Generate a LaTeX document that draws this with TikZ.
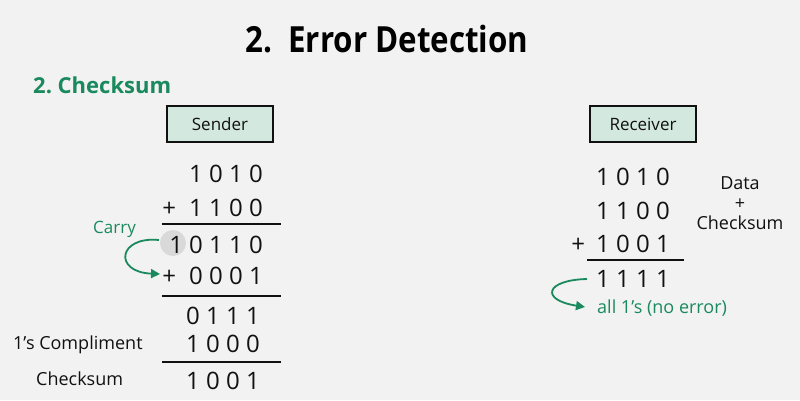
\documentclass[tikz,border=0pt]{standalone}
\usepackage{fontspec}
\usepackage{graphicx}
\setmainfont{Open Sans}
\usetikzlibrary{arrows.meta}
\definecolor{bg}{HTML}{F2F2F2}
\definecolor{gfg}{HTML}{1A8A5E}
\definecolor{boxfill}{HTML}{D3E8DF}
\definecolor{ink}{HTML}{111111}
\begin{document}
\begin{tikzpicture}[x=1pt,y=-1pt,
  num/.style={anchor=base east,inner sep=0pt,font=\fontsize{24}{24}\selectfont,text=ink},
  lbl/.style={anchor=base west,inner sep=0pt,font=\fontsize{18}{18}\selectfont,text=ink},
  grn/.style={inner sep=0pt,font=\fontsize{17}{17}\selectfont,text=gfg},
  hdr/.style={draw=ink,line width=1.6pt,fill=boxfill,minimum width=106pt,minimum height=36pt,inner sep=0pt,font=\fontsize{17}{17}\selectfont,text=ink},
  rule/.style={draw=ink,line width=1.8pt},
  carry/.style={draw=gfg,line width=1.8pt,-{Triangle[length=9pt,width=9pt]}}]
\fill[bg] (0,0) rectangle (800,400);
\useasboundingbox (0,0) rectangle (800,400);
% titles
\node[anchor=base west,inner sep=0pt,font=\fontsize{36}{36}\selectfont\bfseries,text=black] (title) at (245,52) {\scalebox{0.87}[1]{2.\ \ Error Detection}};
\node[anchor=base west,inner sep=0pt,font=\fontsize{22}{22}\selectfont\bfseries,text=gfg] (sub) at (33,93) {2.\ Checksum};
% sender
\node[hdr] (sender) at (220,124) {Sender};
\fill[gray!30] (173,243) circle (13);
\coordinate (cc) at (173,243);
\node[num] (s1) at (263,182) {1 0 1 0};
\node[num] (s2) at (263,216) {+\hspace{7pt}\ 1 1 0 0};
\node[num] (s3) at (263,253) {1 0 1 1 0};
\node[num] (s4) at (263,284) {+\hspace{7pt}\ 0 0 0 1};
\node[num] (s5) at (260,324) {0 1 1 1};
\node[num] (s6) at (260,352) {1 0 0 0};
\node[num] (s7) at (260,389) {1 0 0 1};
\coordinate (l1a) at (162,224); \coordinate (l1b) at (281,224);
\coordinate (l2a) at (162,296); \coordinate (l2b) at (281,296);
\coordinate (l3a) at (162,362); \coordinate (l3b) at (281,362);
\draw[rule] (l1a) -- (l1b);
\draw[rule] (l2a) -- (l2b);
\draw[rule] (l3a) -- (l3b);
\node[lbl] (comp) at (13,349) {1’s Compliment};
\node[lbl] (cks) at (36,385) {Checksum};
\node[grn,anchor=base west] (carry) at (93,233) {Carry};
\coordinate (ca) at (159,240);
\coordinate (cb) at (160,274);
\draw[carry] (ca) .. controls (118,236) and (113,272) .. (cb);
% receiver
\node[hdr] (receiver) at (643,124) {Receiver};
\node[num] (r1) at (670,185) {1 0 1 0};
\node[num] (r2) at (670,219) {1 1 0 0};
\node[num] (r3) at (670,252) {+\hspace{5pt}\ 1 0 0 1};
\node[num] (r4) at (670,287) {1 1 1 1};
\coordinate (rla) at (587,260); \coordinate (rlb) at (684,260);
\draw[rule] (rla) -- (rlb);
\node[grn,anchor=base west,font=\fontsize{18}{18}\selectfont] (ok) at (597,313) {all 1’s (no error)};
\coordinate (ra) at (587,279);
\coordinate (rb) at (585,307);
\draw[carry] (ra) .. controls (545,280) and (540,300) .. (rb);
\node[inner sep=0pt,align=center,font=\fontsize{18}{20}\selectfont,text=ink,anchor=north] (dc) at (740,176) {Data\\+\\Checksum};
\end{tikzpicture}
\end{document}
